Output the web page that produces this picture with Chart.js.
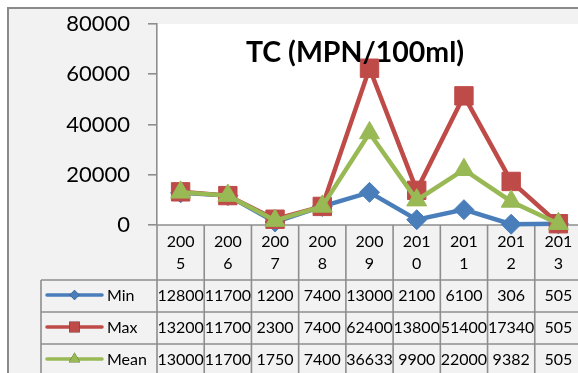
<!DOCTYPE html>
<html>
<head>
<meta charset="utf-8">
<script src="https://cdn.jsdelivr.net/npm/chart.js@4/dist/chart.umd.min.js"></script>
<style>
  html, body { margin: 0; padding: 0; background: #ffffff; overflow: hidden; width: 578px; height: 373px; }
  #wrap { position: absolute; left: 0; top: 0; width: 584px; height: 373px; }
</style>
</head>
<body>
<div id="wrap"><canvas id="c" width="584" height="373"></canvas></div>
<script>
// ---- data ----
const years = ["2005", "2006", "2007", "2008", "2009", "2010", "2011", "2012", "2013"];
const yearLabels = [["200", "5"], ["200", "6"], ["200", "7"], ["200", "8"], ["200", "9"], ["201", "0"], ["201", "1"], ["201", "2"], ["201", "3"]];
const minValues  = [12800, 11700, 1200, 7400, 13000, 2100, 6100, 306, 505];
const maxValues  = [13200, 11700, 2300, 7400, 62400, 13800, 51400, 17340, 505];
const meanValues = [13000, 11700, 1750, 7400, 36633, 9900, 22000, 9382, 505];
const yTicks = [0, 20000, 40000, 60000, 80000];
const seriesNames = ["Min", "Max", "Mean"];
const chartTitle = "TC (MPN/100ml)";

const COLORS = { Min: "#4a7ebb", Max: "#be4b48", Mean: "#98b954" };
const GRID = "#8e8e8e";
const FONT = "Lato, 'Open Sans', sans-serif";

const bgPlugin = {
  id: 'bg',
  beforeDraw(chart) {
    const ctx = chart.ctx, a = chart.chartArea;
    ctx.save();
    ctx.fillStyle = '#ffffff';
    ctx.fillRect(0, 0, chart.width, chart.height);
    ctx.fillStyle = '#f2f2f2';
    ctx.fillRect(8, 8, chart.width, chart.height);
    ctx.strokeStyle = '#8a8a8a';
    ctx.lineWidth = 2;
    ctx.beginPath();
    ctx.moveTo(8, chart.height); ctx.lineTo(8, 8); ctx.lineTo(chart.width, 8);
    ctx.stroke();
    ctx.fillStyle = '#ffffff';
    ctx.fillRect(a.left, a.top, a.right - a.left, a.bottom - a.top);
    ctx.restore();
  }
};

function drawMarker(ctx, style, x, y, r, color) {
  Chart.helpers.drawPoint(ctx, { pointStyle: style, radius: r, rotation: 0, borderWidth: 0 }, x, y);
  ctx.fillStyle = color;
  ctx.fill();
}

const tablePlugin = {
  id: 'table',
  beforeDatasetsDraw(chart) {
    const ctx = chart.ctx, a = chart.chartArea;
    const n = years.length;
    const colW = (a.right - a.left) / n;
    const headBottom = 280, rowH = 32;
    ctx.save();
    ctx.strokeStyle = GRID;
    ctx.lineWidth = 1.6;
    ctx.beginPath();
    ctx.moveTo(a.left, a.bottom); ctx.lineTo(chart.width, a.bottom);
    for (let i = 0; i <= n; i++) {
      const x = a.left + i * colW;
      ctx.moveTo(x, a.bottom); ctx.lineTo(x, chart.height);
    }
    ctx.moveTo(41, headBottom); ctx.lineTo(41, chart.height);
    for (let r = 0; r < 3; r++) {
      const y = headBottom + r * rowH;
      ctx.moveTo(41, y); ctx.lineTo(chart.width, y);
    }
    ctx.stroke();
    ctx.restore();
  },
  afterDraw(chart) {
    const ctx = chart.ctx, xs = chart.scales.x;
    const headBottom = 280, rowH = 32;
    ctx.save();
    ctx.fillStyle = '#000000';
    ctx.font = "16px " + FONT;
    ctx.textAlign = 'center';
    ctx.textBaseline = 'middle';
    yearLabels.forEach((lab, i) => {
      const x = xs.getPixelForValue(i);
      ctx.fillText(lab[0], x, 242);
      ctx.fillText(lab[1], x, 264);
    });
    const rows = [minValues, maxValues, meanValues];
    const styles = ['rectRot', 'rect', 'triangle'];
    const radii = [5, 7.5, 6.5];
    rows.forEach((vals, r) => {
      const yc = headBottom + r * rowH + 16;
      vals.forEach((v, i) => {
        ctx.fillStyle = '#000000';
        ctx.textAlign = 'center';
        ctx.fillText(String(v), xs.getPixelForValue(i), yc);
      });
      const name = seriesNames[r];
      const col = COLORS[name];
      ctx.strokeStyle = col;
      ctx.lineWidth = 3.5;
      ctx.lineCap = 'round';
      ctx.beginPath();
      ctx.moveTo(47, yc - 1); ctx.lineTo(102, yc - 1);
      ctx.stroke();
      drawMarker(ctx, styles[r], 74.5, yc - 1, radii[r], col);
      ctx.fillStyle = '#000000';
      ctx.textAlign = 'left';
      ctx.fillText(name, 107, yc);
    });
    ctx.font = "bold 28.5px " + FONT;
    ctx.textAlign = 'center';
    ctx.textBaseline = 'alphabetic';
    ctx.fillStyle = '#000000';
    ctx.fillText(chartTitle, 355, 62);
    ctx.restore();
  }
};

new Chart(document.getElementById('c'), {
  type: 'line',
  data: {
    labels: years,
    datasets: [
      { label: seriesNames[0], data: minValues, borderColor: COLORS.Min, backgroundColor: COLORS.Min,
        borderWidth: 4.5, pointStyle: 'rectRot', pointRadius: 10, pointBorderWidth: 1, order: 2, clip: false },
      { label: seriesNames[1], data: maxValues, borderColor: COLORS.Max, backgroundColor: COLORS.Max,
        borderWidth: 4.5, pointStyle: 'rect', pointRadius: 13, pointBorderWidth: 1, order: 1, clip: false },
      { label: seriesNames[2], data: meanValues, borderColor: COLORS.Mean, backgroundColor: COLORS.Mean,
        borderWidth: 4.5, pointStyle: 'triangle', pointRadius: 11.5, pointBorderWidth: 1, order: 0, clip: false }
    ]
  },
  options: {
    responsive: false,
    animation: false,
    devicePixelRatio: 1,
    layout: { autoPadding: false, padding: { left: 0, top: 24, right: 2, bottom: 148 } },
    plugins: { legend: { display: false }, tooltip: { enabled: false }, title: { display: false } },
    elements: { line: { tension: 0 } },
    scales: {
      x: { type: 'category', display: false, offset: true },
      y: {
        min: 0, max: 80000,
        afterBuildTicks(scale) { scale.ticks = yTicks.map(v => ({ value: v })); },
        afterFit(scale) { scale.width = 157; scale.paddingTop = 12; scale.paddingBottom = 12; },
        ticks: { color: '#000000', font: { family: FONT, size: 22 }, padding: 18, callback: v => String(v) },
        grid: { display: true, drawOnChartArea: false, drawTicks: true, tickLength: 9, color: GRID, lineWidth: 1.6 },
        border: { display: true, color: GRID, width: 1.6 }
      }
    }
  },
  plugins: [bgPlugin, tablePlugin]
});
</script>
</body>
</html>
